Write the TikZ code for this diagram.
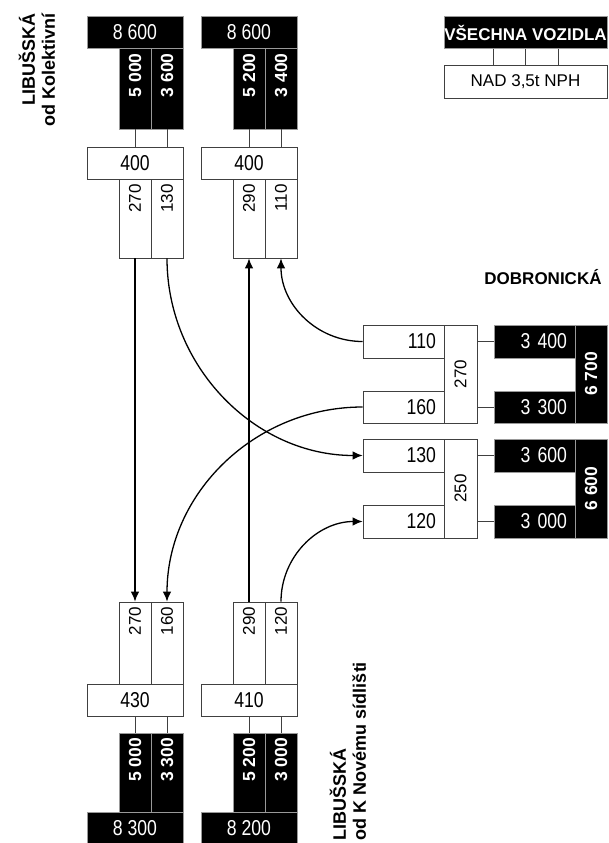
\documentclass[tikz,border=0pt]{standalone}
\usepackage{fontspec}
\setmainfont{Liberation Sans}
\newfontfamily\narrowsans[FakeStretch=0.82]{Liberation Sans}
\usepackage{tikz}
\usetikzlibrary{arrows.meta,positioning,calc}

\begin{document}
\begin{tikzpicture}[x=1pt, y=-1pt,
		wbox/.style={draw=black!75, line width=0.8pt, fill=white, inner sep=0pt, font=\narrowsans\fontsize{21.5}{23}\selectfont},
		bbox/.style={draw=black!40, line width=0.6pt, fill=black, text=white, inner sep=0pt, font=\narrowsans\fontsize{21.5}{23}\selectfont},
		wide/.style={minimum width=96pt, minimum height=32pt},
		col/.style={minimum width=32pt, minimum height=#1},
		cell/.style={minimum width=81pt, minimum height=#1, text width=65pt, align=right, inner xsep=8pt},
		vnum/.style={rotate=90, anchor=east, inner sep=5pt, font=\fontsize{17}{19}\selectfont},
		vbold/.style={vnum, text=white, font=\bfseries\fontsize{17.5}{19}\selectfont},
		street/.style={rotate=90, inner sep=0pt, font=\bfseries\fontsize{18}{20}\selectfont},
		link/.style={draw=black!75, line width=0.8pt},
		arr/.style={line width=1.3pt, -{Latex[length=10pt,width=8.5pt]}}]
		\useasboundingbox (0,0) rectangle (608,843);

		% Libusska od Kolektivni
		\node[street, align=right] (streetA) at (37,70) {LIBUŠSKÁ\\od Kolektivní};

		\node[bbox, wide] (A8600) at (135,32.5) {8 600};
		\node[bbox, col=80.5pt, label={[vbold]north:5 000}] (A5000) at (135,88.75) {};
		\node[bbox, col=80.5pt, label={[vbold]north:3 600}] (A3600) at (167,88.75) {};
		\node[wbox, wide] (A400) at (135,163.5) {400};
		\node[wbox, col=78.5pt, label={[vnum]north:270}] (A270) at (135,218.75) {};
		\node[wbox, col=78.5pt, label={[vnum]north:130}] (A130) at (167,218.75) {};

		\node[bbox, wide] (B8600) at (249,32.5) {8 600};
		\node[bbox, col=80.5pt, label={[vbold]north:5 200}] (B5200) at (249,88.75) {};
		\node[bbox, col=80.5pt, label={[vbold]north:3 400}] (B3400) at (281,88.75) {};
		\node[wbox, wide] (B400) at (249,163.5) {400};
		\node[wbox, col=78.5pt, label={[vnum]north:290}] (B290) at (249,218.75) {};
		\node[wbox, col=78.5pt, label={[vnum]north:110}] (B110) at (281,218.75) {};

		\draw[link] (A5000.south) -- (A5000.south |- A400.north);
		\draw[link] (A3600.south) -- (A3600.south |- A400.north);
		\draw[link] (B5200.south) -- (B5200.south |- B400.north);
		\draw[link] (B3400.south) -- (B3400.south |- B400.north);

		% legend
		\node[bbox, minimum width=163pt, minimum height=32pt, font=\bfseries\fontsize{17}{19}\selectfont] (allveh) at (525.5,32.5) {VŠECHNA VOZIDLA};
		\node[wbox, minimum width=163pt, minimum height=33pt, font=\fontsize{17}{19}\selectfont] (heavy) at (525.5,81.5) {NAD 3,5t NPH};
		\foreach \dx in {-32.5,0,32.5}
			\draw[link] ([xshift=\dx pt]allveh.south) -- ([xshift=\dx pt]heavy.north);

		% Dobronicka
		\node[font=\bfseries\fontsize{17}{19}\selectfont, inner sep=0pt] (streetE) at (543,277) {DOBRONICKÁ};

		\node[wbox, cell=33pt] (E110) at (403.5,341.5) {110};
		\node[wbox, minimum width=33pt, minimum height=98pt, font=\fontsize{17}{19}\selectfont] (E270) at (460.5,374) {\rotatebox{90}{270}};
		\node[wbox, cell=32pt] (E160) at (403.5,407) {160};
		\node[bbox, cell=33pt] (E3400) at (534.5,341.5) {3 400};
		\node[bbox, minimum width=32pt, minimum height=98pt, font=\bfseries\fontsize{17.5}{19}\selectfont] (E6700) at (591,374) {\rotatebox{90}{6 700}};
		\node[bbox, cell=32pt] (E3300) at (534.5,407) {3 300};

		\node[wbox, cell=33pt] (F130) at (403.5,455.5) {130};
		\node[wbox, minimum width=33pt, minimum height=99pt, font=\fontsize{17}{19}\selectfont] (F250) at (460.5,488.5) {\rotatebox{90}{250}};
		\node[wbox, cell=33pt] (F120) at (403.5,521.5) {120};
		\node[bbox, cell=33pt] (F3600) at (534.5,455.5) {3 600};
		\node[bbox, minimum width=32pt, minimum height=99pt, font=\bfseries\fontsize{17.5}{19}\selectfont] (F6600) at (591,488.5) {\rotatebox{90}{6 600}};
		\node[bbox, cell=33pt] (F3000) at (534.5,521.5) {3 000};

		\draw[link] (E3400.west) -- (E3400.west -| E270.east);
		\draw[link] (E3300.west) -- (E3300.west -| E270.east);
		\draw[link] (F3600.west) -- (F3600.west -| F250.east);
		\draw[link] (F3000.west) -- (F3000.west -| F250.east);

		% Libusska od K Novemu sidlisti
		\node[street, align=left] (streetC) at (348,751) {LIBUŠSKÁ\\od K Novému sídlišti};

		\node[wbox, col=82.5pt, label={[vnum]north:270}] (C270) at (135,643.25) {};
		\node[wbox, col=82.5pt, label={[vnum]north:160}] (C160) at (167,643.25) {};
		\node[wbox, wide] (C430) at (135,700.5) {430};
		\node[bbox, col=79pt, label={[vbold]north:5 000}] (C5000) at (135,772.5) {};
		\node[bbox, col=79pt, label={[vbold]north:3 300}] (C3300) at (167,772.5) {};
		\node[bbox, wide] (C8300) at (135,828) {8 300};

		\node[wbox, col=82.5pt, label={[vnum]north:290}] (D290) at (249,643.25) {};
		\node[wbox, col=82.5pt, label={[vnum]north:120}] (D120) at (281,643.25) {};
		\node[wbox, wide] (D410) at (249,700.5) {410};
		\node[bbox, col=79pt, label={[vbold]north:5 200}] (D5200) at (249,772.5) {};
		\node[bbox, col=79pt, label={[vbold]north:3 000}] (D3000) at (281,772.5) {};
		\node[bbox, wide] (D8200) at (249,828) {8 200};

		\draw[link] (C5000.north) -- (C5000.north |- C430.south);
		\draw[link] (C3300.north) -- (C3300.north |- C430.south);
		\draw[link] (D5200.north) -- (D5200.north |- D410.south);
		\draw[link] (D3000.north) -- (D3000.north |- D410.south);

		% turning flows
		\draw[arr] (A270.south) -- (C270.north);
		\draw[arr] (D290.north) -- (B290.south);
		\draw[arr] (A130.south) .. controls +(0,108) and +(-108,0) .. (F130.west);
		\draw[arr] (E110.west) .. controls +(-46,0) and +(0,46) .. (B110.south);
		\draw[arr] (E160.west) .. controls +(-108,0) and +(0,-108) .. (C160.north);
		\draw[arr] (D120.north) .. controls +(0,-45) and +(-45,0) .. (F120.west);
	\end{tikzpicture}
\end{document}
